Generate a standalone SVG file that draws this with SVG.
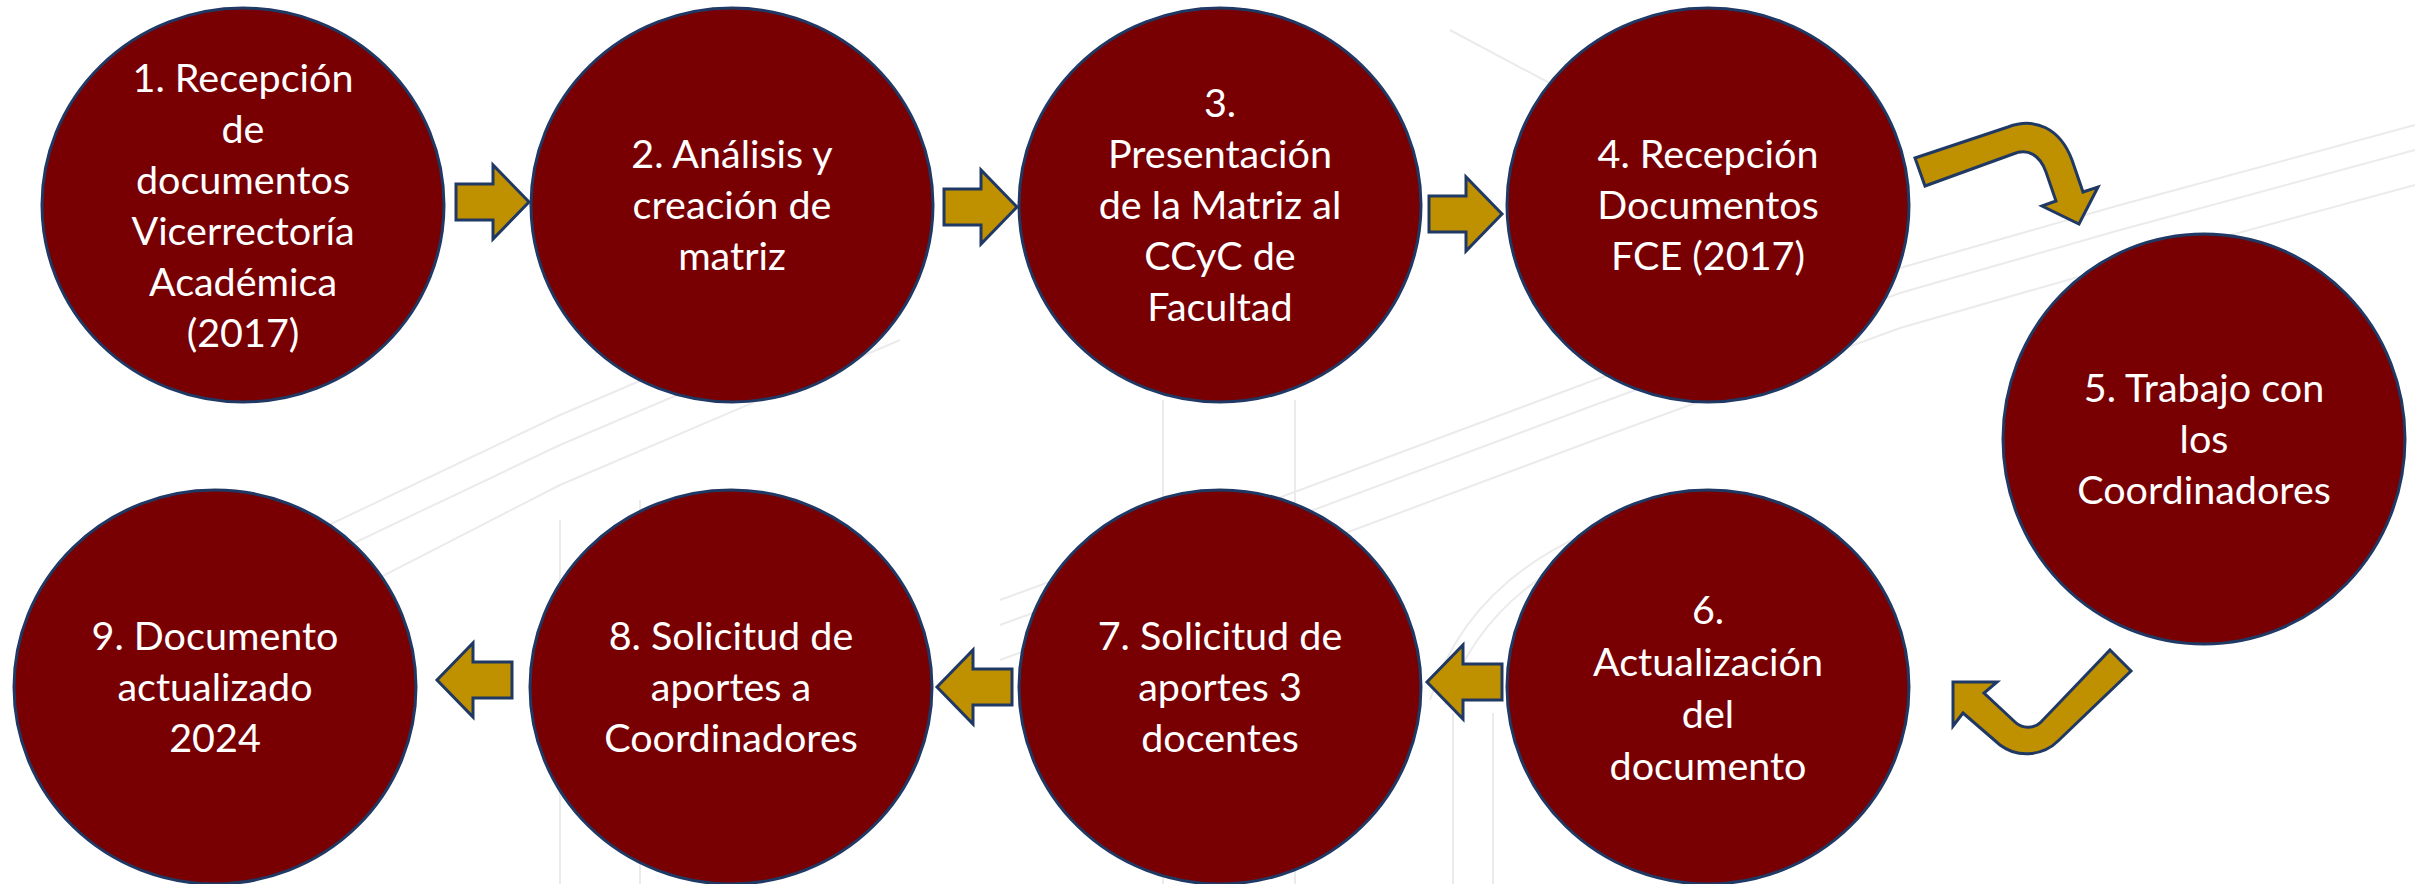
<svg xmlns="http://www.w3.org/2000/svg" width="2415" height="884" viewBox="0 0 2415 884">
  <defs>
    <style>
      .bg { fill: none; stroke: #ebebeb; stroke-width: 2; }
      .node { fill: #780003; stroke: #1f3864; stroke-width: 3; }
      .lbl { font-family: Lato, "Liberation Sans", sans-serif; font-size: 39.5px; fill: #ffffff; text-anchor: middle; }
      .arrow { fill: #bf9000; stroke: #1f3864; stroke-width: 3; stroke-linejoin: miter; }
    </style>
    <path id="rArrow" d="M0,-18 L37,-18 L37,-37 L73,0 L37,37 L37,18 L0,18 Z"/>
    <path id="lArrow" d="M0,0 L36,-37 L36,-18 L75,-18 L75,18 L36,18 L36,37 Z"/>
  </defs>
  <rect width="2415" height="884" fill="#ffffff"/>

  <g id="background">
    <polyline class="bg" points="1000,625 1300,515 1600,403 1900,293 2120,230 2415,150"/>
    <polyline class="bg" points="1000,600 1300,490 1600,378 1900,268 2120,205 2415,125"/>
    <polyline class="bg" points="1000,660 1300,550 1600,438 1900,328 2120,265 2415,185"/>
    <polyline class="bg" points="150,640 560,445 900,300"/>
    <polyline class="bg" points="150,610 560,415 900,270"/>
    <polyline class="bg" points="180,680 560,485 900,340"/>
    <polyline class="bg" points="1450,30 1600,110 1900,150"/>
    <line class="bg" x1="1163" y1="400" x2="1163" y2="884"/>
    <line class="bg" x1="1295" y1="400" x2="1295" y2="884"/>
    <line class="bg" x1="1453" y1="713" x2="1453" y2="884"/>
    <line class="bg" x1="1493" y1="713" x2="1493" y2="884"/>
    <path class="bg" d="M1430,700 Q1480,540 1700,500"/>
    <path class="bg" d="M1445,705 Q1495,555 1700,515"/>
    <line class="bg" x1="560" y1="520" x2="560" y2="884"/>
    <line class="bg" x1="640" y1="500" x2="640" y2="884"/>
  </g>

  <g id="connectors">
    <use href="#rArrow" class="arrow" transform="translate(456,202)"/>
    <use href="#rArrow" class="arrow" transform="translate(944,207)"/>
    <use href="#rArrow" class="arrow" transform="translate(1429,214)"/>
    <path class="arrow" d="M1915,158 L2008,127 C2035,117 2060,128 2072,160 L2083,192 L2098,187 L2079,224 L2042,206 L2056,201 L2046,172 C2040,155 2028,148 2013,154 L1925,186 Z"/>
    <path class="arrow" d="M2110,650 L2131,671 L2058,741 C2045,754 2020,760 2000,745 L1963,713 L1953,726 L1953,682 L1997,682 L1984,693 L2015,722 C2022,729 2034,729 2041,722 Z"/>
    <use href="#lArrow" class="arrow" transform="translate(1427,682)"/>
    <use href="#lArrow" class="arrow" transform="translate(937,687)"/>
    <use href="#lArrow" class="arrow" transform="translate(437,680)"/>
  </g>

  <g id="node1">
    <ellipse class="node" cx="243" cy="205" rx="201" ry="197"/>
    <text class="lbl"><tspan x="243" y="92">1. Recepción</tspan><tspan x="243" y="143">de</tspan><tspan x="243" y="194">documentos</tspan><tspan x="243" y="245">Vicerrectoría</tspan><tspan x="243" y="296">Académica</tspan><tspan x="243" y="347">(2017)</tspan></text>
  </g>
  <g id="node2">
    <ellipse class="node" cx="732" cy="205" rx="201" ry="197"/>
    <text class="lbl"><tspan x="732" y="168">2. Análisis y</tspan><tspan x="732" y="219">creación de</tspan><tspan x="732" y="270">matriz</tspan></text>
  </g>
  <g id="node3">
    <ellipse class="node" cx="1220" cy="205" rx="201" ry="197"/>
    <text class="lbl"><tspan x="1220" y="117">3.</tspan><tspan x="1220" y="168">Presentación</tspan><tspan x="1220" y="219">de la Matriz al</tspan><tspan x="1220" y="270">CCyC de</tspan><tspan x="1220" y="321">Facultad</tspan></text>
  </g>
  <g id="node4">
    <ellipse class="node" cx="1708" cy="205" rx="201" ry="197"/>
    <text class="lbl"><tspan x="1708" y="168">4. Recepción</tspan><tspan x="1708" y="219">Documentos</tspan><tspan x="1708" y="270">FCE (2017)</tspan></text>
  </g>
  <g id="node5">
    <ellipse class="node" cx="2204" cy="439" rx="201" ry="205"/>
    <text class="lbl"><tspan x="2204" y="402">5. Trabajo con</tspan><tspan x="2204" y="453">los</tspan><tspan x="2204" y="504">Coordinadores</tspan></text>
  </g>
  <g id="node6">
    <ellipse class="node" cx="1708" cy="687" rx="201" ry="197"/>
    <text class="lbl"><tspan x="1708" y="624">6.</tspan><tspan x="1708" y="676">Actualización</tspan><tspan x="1708" y="728">del</tspan><tspan x="1708" y="780">documento</tspan></text>
  </g>
  <g id="node7">
    <ellipse class="node" cx="1220" cy="687" rx="201" ry="197"/>
    <text class="lbl"><tspan x="1220" y="650">7. Solicitud de</tspan><tspan x="1220" y="701">aportes 3</tspan><tspan x="1220" y="752">docentes</tspan></text>
  </g>
  <g id="node8">
    <ellipse class="node" cx="731" cy="687" rx="201" ry="197"/>
    <text class="lbl"><tspan x="731" y="650">8. Solicitud de</tspan><tspan x="731" y="701">aportes a</tspan><tspan x="731" y="752">Coordinadores</tspan></text>
  </g>
  <g id="node9">
    <ellipse class="node" cx="215" cy="687" rx="201" ry="197"/>
    <text class="lbl"><tspan x="215" y="650">9. Documento</tspan><tspan x="215" y="701">actualizado</tspan><tspan x="215" y="752">2024</tspan></text>
  </g>
</svg>
